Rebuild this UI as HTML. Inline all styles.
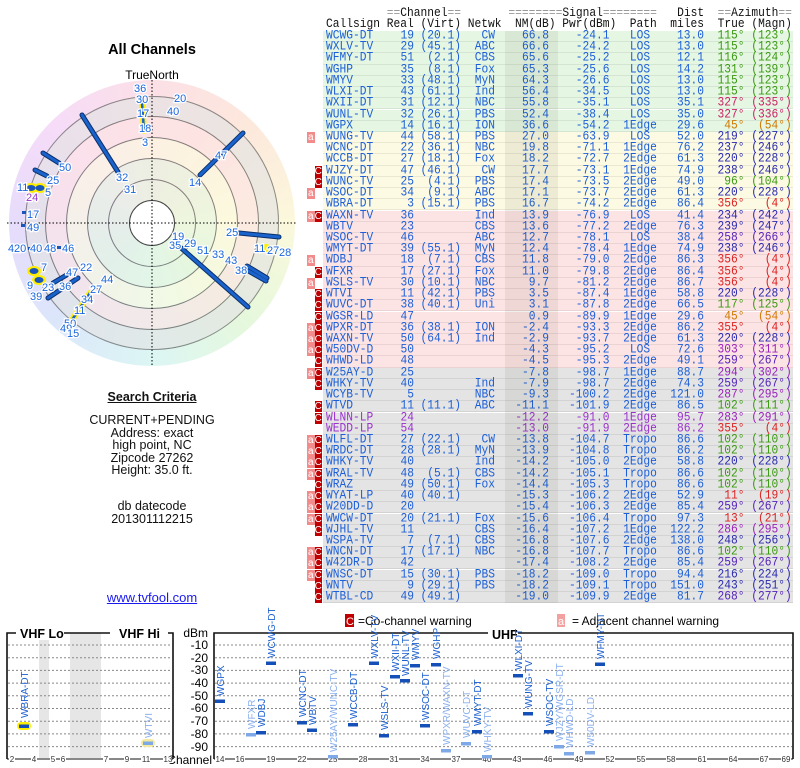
<!DOCTYPE html>
<html><head><meta charset="utf-8"><style>
*{margin:0;padding:0;box-sizing:border-box}
body{width:800px;height:768px;background:#fff;position:relative;overflow:hidden;font-family:"Liberation Sans",sans-serif}
.abs{position:absolute}
.hd{position:absolute;left:326px;font:11.25px/11px "Liberation Mono",monospace;color:#111;white-space:pre;transform:scaleY(1.15);transform-origin:0 50%}
.hd s{text-decoration:none;color:#999}
.r{position:absolute;left:323px;width:470px;height:11.2px;font:11.25px/11.4px "Liberation Mono",monospace;color:#1d5fd8;white-space:pre;border-bottom:1px solid rgba(0,0,0,.07)}
.r span{position:absolute;top:0;transform:scaleY(1.15);transform-origin:50% 40%}
.g{background:#e5f7e3}.y{background:#fcfae3}.p{background:#fde4e4}.x{background:#e4e4e4}
.k{left:3px}.re{right:379px}.vi{right:332px}.nw{right:298px}.nm{right:244px}.pw{right:183.5px}
.pa{left:283px;width:68px;text-align:center}.di{right:89px}.tr{right:48.5px}.mg{right:1.25px}
.wa,.wc{position:absolute;top:0;width:7.5px;height:11px;color:#fff;font:10px/11px "Liberation Sans",sans-serif;text-align:center}
.wa{left:-16px;background:#f28c8c}.wc{left:-8.5px;background:#c00000}
.G{color:#3b9a12}.O{color:#d07a00}.B{color:#2a2ab0}.V{color:#5522bb}.M{color:#9a22bb}.R{color:#dd2222}.Q{color:#cc2266}
.pu{color:#9933cc}
.disk{position:absolute;border-radius:50%}
.st{font:11px "Liberation Sans",sans-serif;fill:#1a66dd;paint-order:stroke;stroke:#fff;stroke-width:2.5px}
.cl{font:10px "Liberation Sans",sans-serif;fill:#1a5fd0}
.cl2{font:10px "Liberation Sans",sans-serif;fill:#8ab0ee}
.ax{font:12px "Liberation Sans",sans-serif;fill:#000}
.tk{font:8px "Liberation Sans",sans-serif;fill:#333}
.sc{position:absolute;left:0;width:304px;text-align:center;font-size:12.5px;color:#111;line-height:12.5px}
</style></head><body>

<div class="abs" style="left:0;width:304px;top:42px;text-align:center;font-weight:bold;font-size:14.5px">All Channels</div>
<div class="abs" style="left:0;width:304px;top:68px;text-align:center;font-size:12px">TrueNorth</div>

<div class="disk" style="left:9px;top:80px;width:286px;height:286px;background:conic-gradient(#fbe0e6,#fde8dc 45deg,#fbf8dc 90deg,#e6f8dc 135deg,#dcf6f4 180deg,#dce6fb 225deg,#e6dcfb 270deg,#f6dcf8 315deg,#fbe0e6 360deg)"></div>
<div class="disk" style="left:25px;top:96px;width:254px;height:254px;background:#e3e3e3;border:1px solid #555"></div>
<div class="disk" style="left:45px;top:116px;width:214px;height:214px;background:#fde4e4;border:1px solid #444"></div>
<div class="disk" style="left:66px;top:137px;width:172px;height:172px;background:#fcfae0;border:1px solid #444"></div>
<div class="disk" style="left:87px;top:158px;width:130px;height:130px;background:#e6f6e0;border:1px solid #444"></div>
<div class="disk" style="left:108px;top:179px;width:88px;height:88px;border:1px solid #444"></div>
<div class="disk" style="left:25px;top:96px;width:254px;height:254px;opacity:.35;background:conic-gradient(#fbe0e6,#fde8dc 45deg,#fbf8dc 90deg,#e6f8dc 135deg,#dcf6f4 180deg,#dce6fb 225deg,#e6dcfb 270deg,#f6dcf8 315deg,#fbe0e6 360deg)"></div>
<div class="disk" style="left:129px;top:200px;width:46px;height:46px;background:#fff;border:1px solid #444"></div>

<svg class="abs" style="left:0;top:0" width="304" height="380">
<line x1="7" y1="223" x2="297" y2="223" stroke="#000" stroke-dasharray="1.5,2"/>
<line x1="152" y1="80" x2="152" y2="367" stroke="#000" stroke-dasharray="1.5,2"/>
<g stroke-linecap="round">
<g stroke="#0a2f6a" stroke-width="5">
<line x1="82" y1="115" x2="118" y2="172"/><line x1="243" y1="133" x2="200" y2="175"/>
<line x1="43" y1="153" x2="59" y2="163"/><line x1="35" y1="170" x2="47" y2="176"/>
<line x1="239" y1="233" x2="279" y2="237"/><line x1="180" y1="247" x2="248" y2="307"/>
<line x1="247" y1="266" x2="267" y2="278"/><line x1="245" y1="269" x2="266" y2="281"/>
<line x1="48" y1="298" x2="78" y2="278"/><line x1="53" y1="283" x2="70" y2="273"/>
<line x1="142" y1="103" x2="144" y2="131"/>
</g>
<g stroke="#1a62cc" stroke-width="3">
<line x1="82" y1="115" x2="118" y2="172"/><line x1="243" y1="133" x2="200" y2="175"/>
<line x1="43" y1="153" x2="59" y2="163"/><line x1="35" y1="170" x2="47" y2="176"/>
<line x1="239" y1="233" x2="279" y2="237"/><line x1="180" y1="247" x2="248" y2="307"/>
<line x1="247" y1="266" x2="267" y2="278"/><line x1="245" y1="269" x2="266" y2="281"/>
<line x1="48" y1="298" x2="78" y2="278"/><line x1="53" y1="283" x2="70" y2="273"/>
</g>
<line x1="90" y1="293" x2="72" y2="320" stroke="#ffee00" stroke-width="6"/>
<line x1="90" y1="293" x2="72" y2="320" stroke="#1a62cc" stroke-width="2.5"/>
<line x1="142" y1="103" x2="144" y2="131" stroke="#ffee00" stroke-width="6"/>
<line x1="142" y1="103" x2="144" y2="131" stroke="#1a62cc" stroke-width="2.5"/>
</g>
<g fill="#ffee00"><ellipse cx="31" cy="188" rx="7" ry="5"/><ellipse cx="40" cy="188" rx="7" ry="5"/><ellipse cx="34" cy="271" rx="7" ry="5"/><ellipse cx="39" cy="280" rx="7" ry="5"/><ellipse cx="266" cy="248" rx="5" ry="4"/></g>
<g fill="#1a55bb"><ellipse cx="31" cy="188" rx="4.5" ry="3"/><ellipse cx="40" cy="188" rx="4.5" ry="3"/><ellipse cx="34" cy="271" rx="4.5" ry="3"/><ellipse cx="39" cy="280" rx="4.5" ry="3"/>
<rect x="22" y="211" width="4" height="3"/><rect x="21" y="224" width="4" height="3"/><rect x="57" y="246" width="4" height="3"/><rect x="177" y="100" width="4" height="3"/><rect x="28" y="247" width="4" height="3"/></g>
<g class="st">
<text x="134" y="92">36</text><text x="136" y="103">30</text><text x="137" y="117">17</text><text x="139" y="132">18</text><text x="142" y="146">3</text>
<text x="174" y="102">20</text><text x="167" y="115">40</text>
<text x="116" y="181">32</text><text x="124" y="193">31</text>
<text x="215" y="159">47</text><text x="189" y="186">14</text>
<text x="59" y="171">50</text><text x="47" y="184">25</text>
<text x="17" y="191">11</text><text x="45" y="196">5</text><text x="26" y="201" style="fill:#9933cc">24</text>
<text x="27" y="218">17</text><text x="27" y="231">49</text>
<text x="8" y="252">4</text><text x="14" y="252">20</text><text x="30" y="252">40</text><text x="44" y="252">48</text><text x="62" y="252">46</text>
<text x="41" y="271">7</text><text x="27" y="289">9</text>
<text x="66" y="276">47</text><text x="80" y="271">22</text><text x="42" y="291">23</text><text x="59" y="290">36</text><text x="30" y="300">39</text>
<text x="101" y="283">44</text><text x="90" y="293">27</text><text x="81" y="303">34</text><text x="74" y="314">11</text><text x="64" y="327">50</text><text x="60" y="332">49</text><text x="67" y="337">15</text>
<text x="226" y="236">25</text><text x="254" y="252">11</text><text x="267" y="254">27</text><text x="279" y="256">28</text>
<text x="172" y="240">19</text><text x="169" y="249">35</text><text x="184" y="247">29</text><text x="197" y="254">51</text><text x="212" y="258">33</text><text x="225" y="264">43</text><text x="235" y="274">38</text>
</g>
</svg>

<div class="sc" style="top:391px;font-weight:bold"><u>Search Criteria</u></div>
<div class="sc" style="top:414px">CURRENT+PENDING<br>Address: exact<br>high point, NC<br>Zipcode 27262<br>Height: 35.0 ft.</div>
<div class="sc" style="top:500px">db datecode<br>201301112215</div>
<div class="sc" style="top:592px;color:#1a1aee;font-size:13px"><u>www.tvfool.com</u></div>

<div class="hd" style="top:9px">         <s>==</s>Channel<s>==</s>       <s>========</s>Signal<s>========</s>   Dist  <s>==</s>Azimuth<s>==</s></div>
<div class="hd" style="top:20px">Callsign Real (Virt) Netwk  NM(dB) Pwr(dBm)  Path  miles  True (Magn)</div>

<div class="r g" style="top:31px"><span class="k">WCWG-DT</span><span class="re">19</span><span class="vi">(20.1)</span><span class="nw">CW</span><span class="nm">66.8</span><span class="pw">-24.1</span><span class="pa">LOS</span><span class="di">13.0</span><span class="tr G">115°</span><span class="mg G">(123°)</span></div>
<div class="r g" style="top:42.2px"><span class="k">WXLV-TV</span><span class="re">29</span><span class="vi">(45.1)</span><span class="nw">ABC</span><span class="nm">66.6</span><span class="pw">-24.2</span><span class="pa">LOS</span><span class="di">13.0</span><span class="tr G">115°</span><span class="mg G">(123°)</span></div>
<div class="r g" style="top:53.4px"><span class="k">WFMY-DT</span><span class="re">51</span><span class="vi">(2.1)</span><span class="nw">CBS</span><span class="nm">65.6</span><span class="pw">-25.2</span><span class="pa">LOS</span><span class="di">12.1</span><span class="tr G">116°</span><span class="mg G">(124°)</span></div>
<div class="r g" style="top:64.7px"><span class="k">WGHP</span><span class="re">35</span><span class="vi">(8.1)</span><span class="nw">Fox</span><span class="nm">65.3</span><span class="pw">-25.6</span><span class="pa">LOS</span><span class="di">14.2</span><span class="tr G">131°</span><span class="mg G">(139°)</span></div>
<div class="r g" style="top:75.9px"><span class="k">WMYV</span><span class="re">33</span><span class="vi">(48.1)</span><span class="nw">MyN</span><span class="nm">64.3</span><span class="pw">-26.6</span><span class="pa">LOS</span><span class="di">13.0</span><span class="tr G">115°</span><span class="mg G">(123°)</span></div>
<div class="r g" style="top:87.1px"><span class="k">WLXI-DT</span><span class="re">43</span><span class="vi">(61.1)</span><span class="nw">Ind</span><span class="nm">56.4</span><span class="pw">-34.5</span><span class="pa">LOS</span><span class="di">13.0</span><span class="tr G">115°</span><span class="mg G">(123°)</span></div>
<div class="r g" style="top:98.3px"><span class="k">WXII-DT</span><span class="re">31</span><span class="vi">(12.1)</span><span class="nw">NBC</span><span class="nm">55.8</span><span class="pw">-35.1</span><span class="pa">LOS</span><span class="di">35.1</span><span class="tr Q">327°</span><span class="mg Q">(335°)</span></div>
<div class="r g" style="top:109.5px"><span class="k">WUNL-TV</span><span class="re">32</span><span class="vi">(26.1)</span><span class="nw">PBS</span><span class="nm">52.4</span><span class="pw">-38.4</span><span class="pa">LOS</span><span class="di">35.0</span><span class="tr Q">327°</span><span class="mg Q">(336°)</span></div>
<div class="r g" style="top:120.8px"><span class="k">WGPX</span><span class="re">14</span><span class="vi">(16.1)</span><span class="nw">ION</span><span class="nm">36.6</span><span class="pw">-54.2</span><span class="pa">1Edge</span><span class="di">29.6</span><span class="tr O">45°</span><span class="mg O">(54°)</span></div>
<div class="r y" style="top:132px"><i class="wa">a</i><span class="k">WUNG-TV</span><span class="re">44</span><span class="vi">(58.1)</span><span class="nw">PBS</span><span class="nm">27.0</span><span class="pw">-63.9</span><span class="pa">LOS</span><span class="di">52.0</span><span class="tr B">219°</span><span class="mg B">(227°)</span></div>
<div class="r y" style="top:143.2px"><span class="k">WCNC-DT</span><span class="re">22</span><span class="vi">(36.1)</span><span class="nw">NBC</span><span class="nm">19.8</span><span class="pw">-71.1</span><span class="pa">1Edge</span><span class="di">76.2</span><span class="tr B">237°</span><span class="mg B">(246°)</span></div>
<div class="r y" style="top:154.4px"><span class="k">WCCB-DT</span><span class="re">27</span><span class="vi">(18.1)</span><span class="nw">Fox</span><span class="nm">18.2</span><span class="pw">-72.7</span><span class="pa">2Edge</span><span class="di">61.3</span><span class="tr B">220°</span><span class="mg B">(228°)</span></div>
<div class="r y" style="top:165.6px"><i class="wc">C</i><span class="k">WJZY-DT</span><span class="re">47</span><span class="vi">(46.1)</span><span class="nw">CW</span><span class="nm">17.7</span><span class="pw">-73.1</span><span class="pa">1Edge</span><span class="di">74.9</span><span class="tr B">238°</span><span class="mg B">(246°)</span></div>
<div class="r y" style="top:176.9px"><i class="wc">C</i><span class="k">WUNC-TV</span><span class="re">25</span><span class="vi">(4.1)</span><span class="nw">PBS</span><span class="nm">17.4</span><span class="pw">-73.5</span><span class="pa">2Edge</span><span class="di">49.0</span><span class="tr G">96°</span><span class="mg G">(104°)</span></div>
<div class="r y" style="top:188.1px"><i class="wa">a</i><span class="k">WSOC-DT</span><span class="re">34</span><span class="vi">(9.1)</span><span class="nw">ABC</span><span class="nm">17.1</span><span class="pw">-73.7</span><span class="pa">2Edge</span><span class="di">61.3</span><span class="tr B">220°</span><span class="mg B">(228°)</span></div>
<div class="r y" style="top:199.3px"><span class="k">WBRA-DT</span><span class="re">3</span><span class="vi">(15.1)</span><span class="nw">PBS</span><span class="nm">16.7</span><span class="pw">-74.2</span><span class="pa">2Edge</span><span class="di">86.4</span><span class="tr R">356°</span><span class="mg R">(4°)</span></div>
<div class="r p" style="top:210.5px"><i class="wa">a</i><i class="wc">C</i><span class="k">WAXN-TV</span><span class="re">36</span><span class="nw">Ind</span><span class="nm">13.9</span><span class="pw">-76.9</span><span class="pa">LOS</span><span class="di">41.4</span><span class="tr B">234°</span><span class="mg B">(242°)</span></div>
<div class="r p" style="top:221.7px"><span class="k">WBTV</span><span class="re">23</span><span class="nw">CBS</span><span class="nm">13.6</span><span class="pw">-77.2</span><span class="pa">2Edge</span><span class="di">76.3</span><span class="tr B">239°</span><span class="mg B">(247°)</span></div>
<div class="r p" style="top:233px"><span class="k">WSOC-TV</span><span class="re">46</span><span class="nw">ABC</span><span class="nm">12.7</span><span class="pw">-78.1</span><span class="pa">LOS</span><span class="di">38.4</span><span class="tr V">258°</span><span class="mg V">(266°)</span></div>
<div class="r p" style="top:244.2px"><span class="k">WMYT-DT</span><span class="re">39</span><span class="vi">(55.1)</span><span class="nw">MyN</span><span class="nm">12.4</span><span class="pw">-78.4</span><span class="pa">1Edge</span><span class="di">74.9</span><span class="tr B">238°</span><span class="mg B">(246°)</span></div>
<div class="r p" style="top:255.4px"><i class="wa">a</i><span class="k">WDBJ</span><span class="re">18</span><span class="vi">(7.1)</span><span class="nw">CBS</span><span class="nm">11.8</span><span class="pw">-79.0</span><span class="pa">2Edge</span><span class="di">86.3</span><span class="tr R">356°</span><span class="mg R">(4°)</span></div>
<div class="r p" style="top:266.6px"><i class="wc">C</i><span class="k">WFXR</span><span class="re">17</span><span class="vi">(27.1)</span><span class="nw">Fox</span><span class="nm">11.0</span><span class="pw">-79.8</span><span class="pa">2Edge</span><span class="di">86.4</span><span class="tr R">356°</span><span class="mg R">(4°)</span></div>
<div class="r p" style="top:277.8px"><i class="wa">a</i><span class="k">WSLS-TV</span><span class="re">30</span><span class="vi">(10.1)</span><span class="nw">NBC</span><span class="nm">9.7</span><span class="pw">-81.2</span><span class="pa">2Edge</span><span class="di">86.7</span><span class="tr R">356°</span><span class="mg R">(4°)</span></div>
<div class="r p" style="top:289.1px"><i class="wc">C</i><span class="k">WTVI</span><span class="re">11</span><span class="vi">(42.1)</span><span class="nw">PBS</span><span class="nm">3.5</span><span class="pw">-87.4</span><span class="pa">1Edge</span><span class="di">58.8</span><span class="tr B">220°</span><span class="mg B">(228°)</span></div>
<div class="r p" style="top:300.3px"><i class="wc">C</i><span class="k">WUVC-DT</span><span class="re">38</span><span class="vi">(40.1)</span><span class="nw">Uni</span><span class="nm">3.1</span><span class="pw">-87.8</span><span class="pa">2Edge</span><span class="di">66.5</span><span class="tr G">117°</span><span class="mg G">(125°)</span></div>
<div class="r p" style="top:311.5px"><i class="wc">C</i><span class="k">WGSR-LD</span><span class="re">47</span><span class="nm">0.9</span><span class="pw">-89.9</span><span class="pa">1Edge</span><span class="di">29.6</span><span class="tr O">45°</span><span class="mg O">(54°)</span></div>
<div class="r p" style="top:322.7px"><i class="wa">a</i><i class="wc">C</i><span class="k">WPXR-DT</span><span class="re">36</span><span class="vi">(38.1)</span><span class="nw">ION</span><span class="nm">-2.4</span><span class="pw">-93.3</span><span class="pa">2Edge</span><span class="di">86.2</span><span class="tr R">355°</span><span class="mg R">(4°)</span></div>
<div class="r p" style="top:333.9px"><i class="wa">a</i><i class="wc">C</i><span class="k">WAXN-TV</span><span class="re">50</span><span class="vi">(64.1)</span><span class="nw">Ind</span><span class="nm">-2.9</span><span class="pw">-93.7</span><span class="pa">2Edge</span><span class="di">61.3</span><span class="tr B">220°</span><span class="mg B">(228°)</span></div>
<div class="r p" style="top:345.2px"><i class="wa">a</i><i class="wc">C</i><span class="k">W50DV-D</span><span class="re">50</span><span class="nm">-4.3</span><span class="pw">-95.2</span><span class="pa">LOS</span><span class="di">72.6</span><span class="tr M">303°</span><span class="mg M">(311°)</span></div>
<div class="r p" style="top:356.4px"><i class="wc">C</i><span class="k">WHWD-LD</span><span class="re">48</span><span class="nm">-4.5</span><span class="pw">-95.3</span><span class="pa">2Edge</span><span class="di">49.1</span><span class="tr V">259°</span><span class="mg V">(267°)</span></div>
<div class="r x" style="top:367.6px"><i class="wa">a</i><i class="wc">C</i><span class="k">W25AY-D</span><span class="re">25</span><span class="nm">-7.8</span><span class="pw">-98.7</span><span class="pa">1Edge</span><span class="di">88.7</span><span class="tr M">294°</span><span class="mg M">(302°)</span></div>
<div class="r x" style="top:378.8px"><i class="wc">C</i><span class="k">WHKY-TV</span><span class="re">40</span><span class="nw">Ind</span><span class="nm">-7.9</span><span class="pw">-98.7</span><span class="pa">2Edge</span><span class="di">74.3</span><span class="tr V">259°</span><span class="mg V">(267°)</span></div>
<div class="r x" style="top:390px"><span class="k">WCYB-TV</span><span class="re">5</span><span class="nw">NBC</span><span class="nm">-9.3</span><span class="pw">-100.2</span><span class="pa">2Edge</span><span class="di">121.0</span><span class="tr M">287°</span><span class="mg M">(295°)</span></div>
<div class="r x" style="top:401.3px"><i class="wc">C</i><span class="k">WTVD</span><span class="re">11</span><span class="vi">(11.1)</span><span class="nw">ABC</span><span class="nm">-11.1</span><span class="pw">-101.9</span><span class="pa">2Edge</span><span class="di">86.5</span><span class="tr G">102°</span><span class="mg G">(111°)</span></div>
<div class="r x pu" style="top:412.5px"><i class="wc">C</i><span class="k">WLNN-LP</span><span class="re">24</span><span class="nm">-12.2</span><span class="pw">-91.0</span><span class="pa">1Edge</span><span class="di">95.7</span><span class="tr M">283°</span><span class="mg M">(291°)</span></div>
<div class="r x pu" style="top:423.7px"><span class="k">WEDD-LP</span><span class="re">54</span><span class="nm">-13.0</span><span class="pw">-91.9</span><span class="pa">2Edge</span><span class="di">86.2</span><span class="tr R">355°</span><span class="mg R">(4°)</span></div>
<div class="r x" style="top:434.9px"><i class="wa">a</i><i class="wc">C</i><span class="k">WLFL-DT</span><span class="re">27</span><span class="vi">(22.1)</span><span class="nw">CW</span><span class="nm">-13.8</span><span class="pw">-104.7</span><span class="pa">Tropo</span><span class="di">86.6</span><span class="tr G">102°</span><span class="mg G">(110°)</span></div>
<div class="r x" style="top:446.1px"><i class="wa">a</i><i class="wc">C</i><span class="k">WRDC-DT</span><span class="re">28</span><span class="vi">(28.1)</span><span class="nw">MyN</span><span class="nm">-13.9</span><span class="pw">-104.8</span><span class="pa">Tropo</span><span class="di">86.2</span><span class="tr G">102°</span><span class="mg G">(110°)</span></div>
<div class="r x" style="top:457.4px"><i class="wa">a</i><i class="wc">C</i><span class="k">WHKY-TV</span><span class="re">40</span><span class="nw">Ind</span><span class="nm">-14.2</span><span class="pw">-105.0</span><span class="pa">2Edge</span><span class="di">58.8</span><span class="tr B">220°</span><span class="mg B">(228°)</span></div>
<div class="r x" style="top:468.6px"><i class="wa">a</i><i class="wc">C</i><span class="k">WRAL-TV</span><span class="re">48</span><span class="vi">(5.1)</span><span class="nw">CBS</span><span class="nm">-14.2</span><span class="pw">-105.1</span><span class="pa">Tropo</span><span class="di">86.6</span><span class="tr G">102°</span><span class="mg G">(110°)</span></div>
<div class="r x" style="top:479.8px"><i class="wc">C</i><span class="k">WRAZ</span><span class="re">49</span><span class="vi">(50.1)</span><span class="nw">Fox</span><span class="nm">-14.4</span><span class="pw">-105.3</span><span class="pa">Tropo</span><span class="di">86.6</span><span class="tr G">102°</span><span class="mg G">(110°)</span></div>
<div class="r x" style="top:491px"><i class="wa">a</i><i class="wc">C</i><span class="k">WYAT-LP</span><span class="re">40</span><span class="vi">(40.1)</span><span class="nm">-15.3</span><span class="pw">-106.2</span><span class="pa">2Edge</span><span class="di">52.9</span><span class="tr R">11°</span><span class="mg R">(19°)</span></div>
<div class="r x" style="top:502.2px"><i class="wa">a</i><i class="wc">C</i><span class="k">W20DD-D</span><span class="re">20</span><span class="nm">-15.4</span><span class="pw">-106.3</span><span class="pa">2Edge</span><span class="di">85.4</span><span class="tr V">259°</span><span class="mg V">(267°)</span></div>
<div class="r x" style="top:513.5px"><i class="wa">a</i><i class="wc">C</i><span class="k">WWCW-DT</span><span class="re">20</span><span class="vi">(21.1)</span><span class="nw">Fox</span><span class="nm">-15.6</span><span class="pw">-106.4</span><span class="pa">Tropo</span><span class="di">97.3</span><span class="tr R">13°</span><span class="mg R">(21°)</span></div>
<div class="r x" style="top:524.7px"><i class="wc">C</i><span class="k">WJHL-TV</span><span class="re">11</span><span class="nw">CBS</span><span class="nm">-16.4</span><span class="pw">-107.2</span><span class="pa">1Edge</span><span class="di">122.2</span><span class="tr M">286°</span><span class="mg M">(295°)</span></div>
<div class="r x" style="top:535.9px"><span class="k">WSPA-TV</span><span class="re">7</span><span class="vi">(7.1)</span><span class="nw">CBS</span><span class="nm">-16.8</span><span class="pw">-107.6</span><span class="pa">2Edge</span><span class="di">138.0</span><span class="tr B">248°</span><span class="mg B">(256°)</span></div>
<div class="r x" style="top:547.1px"><i class="wa">a</i><i class="wc">C</i><span class="k">WNCN-DT</span><span class="re">17</span><span class="vi">(17.1)</span><span class="nw">NBC</span><span class="nm">-16.8</span><span class="pw">-107.7</span><span class="pa">Tropo</span><span class="di">86.6</span><span class="tr G">102°</span><span class="mg G">(110°)</span></div>
<div class="r x" style="top:558.3px"><i class="wa">a</i><i class="wc">C</i><span class="k">W42DR-D</span><span class="re">42</span><span class="nm">-17.4</span><span class="pw">-108.2</span><span class="pa">2Edge</span><span class="di">85.4</span><span class="tr V">259°</span><span class="mg V">(267°)</span></div>
<div class="r x" style="top:569.6px"><i class="wa">a</i><i class="wc">C</i><span class="k">WNSC-DT</span><span class="re">15</span><span class="vi">(30.1)</span><span class="nw">PBS</span><span class="nm">-18.2</span><span class="pw">-109.0</span><span class="pa">Tropo</span><span class="di">94.4</span><span class="tr B">216°</span><span class="mg B">(224°)</span></div>
<div class="r x" style="top:580.8px"><i class="wc">C</i><span class="k">WNTV</span><span class="re">9</span><span class="vi">(29.1)</span><span class="nw">PBS</span><span class="nm">-18.2</span><span class="pw">-109.1</span><span class="pa">Tropo</span><span class="di">151.0</span><span class="tr B">243°</span><span class="mg B">(251°)</span></div>
<div class="r x" style="top:592px"><i class="wc">C</i><span class="k">WTBL-CD</span><span class="re">49</span><span class="vi">(49.1)</span><span class="nm">-19.0</span><span class="pw">-109.9</span><span class="pa">2Edge</span><span class="di">81.7</span><span class="tr V">268°</span><span class="mg V">(277°)</span></div>
<div class="abs" style="left:505px;top:31px;width:53px;height:572px;background:rgba(60,60,40,.08)"></div>

<svg class="abs" style="left:0;top:600px" width="800" height="168">
<g transform="translate(0,-600)">
<rect x="39" y="633" width="10" height="125" fill="#e6e6e6"/>
<rect x="70" y="633" width="31" height="125" fill="#e6e6e6"/>
<g stroke="#888" stroke-dasharray="2,2" stroke-width="1">
<line x1="8" y1="645" x2="172" y2="645"/><line x1="8" y1="657.7" x2="172" y2="657.7"/><line x1="8" y1="670.4" x2="172" y2="670.4"/><line x1="8" y1="683.1" x2="172" y2="683.1"/><line x1="8" y1="695.8" x2="172" y2="695.8"/><line x1="8" y1="708.5" x2="172" y2="708.5"/><line x1="8" y1="721.2" x2="172" y2="721.2"/><line x1="8" y1="733.9" x2="172" y2="733.9"/><line x1="8" y1="746.6" x2="172" y2="746.6"/>
<line x1="215" y1="645" x2="792" y2="645"/><line x1="215" y1="657.7" x2="792" y2="657.7"/><line x1="215" y1="670.4" x2="792" y2="670.4"/><line x1="215" y1="683.1" x2="792" y2="683.1"/><line x1="215" y1="695.8" x2="792" y2="695.8"/><line x1="215" y1="708.5" x2="792" y2="708.5"/><line x1="215" y1="721.2" x2="792" y2="721.2"/><line x1="215" y1="733.9" x2="792" y2="733.9"/><line x1="215" y1="746.6" x2="792" y2="746.6"/>
</g>
<g fill="none" stroke="#111" stroke-width="1.6">
<polyline points="7,759 7,633 173,633 173,759"/>
<polyline points="214,759 214,633 793,633 793,759"/>
<line x1="7" y1="759" x2="173" y2="759" stroke-width="1"/>
<line x1="214" y1="759" x2="793" y2="759" stroke-width="1"/>
</g>
<rect x="16" y="626" width="48" height="14" fill="#fff"/><text x="20" y="638" style="font:bold 12.5px 'Liberation Sans',sans-serif">VHF Lo</text>
<rect x="110" y="626" width="58" height="14" fill="#fff"/><text x="119" y="638" style="font:bold 12.5px 'Liberation Sans',sans-serif">VHF Hi</text>
<rect x="488" y="626" width="30" height="14" fill="#fff"/><text x="492" y="639" style="font:bold 12.5px 'Liberation Sans',sans-serif">UHF</text>
<g class="ax" text-anchor="end">
<text x="208" y="637">dBm</text><text x="208" y="649">-10</text><text x="208" y="662">-20</text><text x="208" y="674">-30</text><text x="208" y="687">-40</text><text x="208" y="700">-50</text><text x="208" y="712">-60</text><text x="208" y="725">-70</text><text x="208" y="738">-80</text><text x="208" y="751">-90</text>
<text x="212" y="764">Channel</text>
</g>
<g class="tk" text-anchor="middle">
<rect x="9" y="756" width="6" height="7" fill="#fff"/><text x="12" y="762">2</text>
<rect x="31" y="756" width="6" height="7" fill="#fff"/><text x="34" y="762">4</text>
<rect x="50" y="756" width="6" height="7" fill="#fff"/><text x="53" y="762">5</text>
<rect x="60" y="756" width="6" height="7" fill="#fff"/><text x="63" y="762">6</text>
<rect x="103" y="756" width="6" height="7" fill="#fff"/><text x="106" y="762">7</text>
<rect x="124" y="756" width="6" height="7" fill="#fff"/><text x="127" y="762">9</text>
<rect x="141" y="756" width="9" height="7" fill="#fff"/><text x="146" y="762">11</text>
<rect x="163" y="756" width="9" height="7" fill="#fff"/><text x="168" y="762">13</text>
<rect x="215" y="756" width="10" height="7" fill="#fff"/><text x="220" y="762">14</text>
<rect x="235" y="756" width="10" height="7" fill="#fff"/><text x="240" y="762">16</text>
<rect x="266" y="756" width="10" height="7" fill="#fff"/><text x="271" y="762">19</text>
<rect x="297" y="756" width="10" height="7" fill="#fff"/><text x="302" y="762">22</text>
<rect x="328" y="756" width="10" height="7" fill="#fff"/><text x="333" y="762">25</text>
<rect x="358" y="756" width="10" height="7" fill="#fff"/><text x="363" y="762">28</text>
<rect x="389" y="756" width="10" height="7" fill="#fff"/><text x="394" y="762">31</text>
<rect x="420" y="756" width="10" height="7" fill="#fff"/><text x="425" y="762">34</text>
<rect x="451" y="756" width="10" height="7" fill="#fff"/><text x="456" y="762">37</text>
<rect x="482" y="756" width="10" height="7" fill="#fff"/><text x="487" y="762">40</text>
<rect x="512" y="756" width="10" height="7" fill="#fff"/><text x="517" y="762">43</text>
<rect x="543" y="756" width="10" height="7" fill="#fff"/><text x="548" y="762">46</text>
<rect x="574" y="756" width="10" height="7" fill="#fff"/><text x="579" y="762">49</text>
<rect x="605" y="756" width="10" height="7" fill="#fff"/><text x="610" y="762">52</text>
<rect x="636" y="756" width="10" height="7" fill="#fff"/><text x="641" y="762">55</text>
<rect x="666" y="756" width="10" height="7" fill="#fff"/><text x="671" y="762">58</text>
<rect x="697" y="756" width="10" height="7" fill="#fff"/><text x="702" y="762">61</text>
<rect x="728" y="756" width="10" height="7" fill="#fff"/><text x="733" y="762">64</text>
<rect x="759" y="756" width="10" height="7" fill="#fff"/><text x="764" y="762">67</text>
<rect x="781" y="756" width="10" height="7" fill="#fff"/><text x="786" y="762">69</text>
</g>
<rect x="345" y="614" width="9" height="13" fill="#c00000"/><text x="346" y="625" style="font:11px 'Liberation Sans',sans-serif;fill:#fff">C</text>
<text x="358" y="625" style="font:12px 'Liberation Sans',sans-serif">=Co-channel warning</text>
<rect x="557" y="614" width="8" height="13" fill="#f4a0a0"/><text x="558" y="625" style="font:11px 'Liberation Sans',sans-serif;fill:#fff">a</text>
<text x="572" y="625" style="font:12px 'Liberation Sans',sans-serif">= Adjacent channel warning</text>
<g>
<rect x="17" y="722" width="14" height="8" rx="4" fill="#ffee00"/>
<rect x="141" y="739" width="14" height="8" rx="4" fill="#f4eaa0"/>
<g fill="#1450b8">
<rect x="19" y="724.5" width="10" height="3.5"/>
<rect x="215" y="699.5" width="10" height="3.5"/><rect x="256" y="731" width="10" height="3.5"/><rect x="266" y="661.5" width="10" height="3.5"/>
<rect x="297" y="721" width="10" height="3.5"/><rect x="307" y="728.5" width="10" height="3.5"/><rect x="348" y="723" width="10" height="3.5"/>
<rect x="369" y="661.5" width="10" height="3.5"/><rect x="379" y="734" width="10" height="3.5"/><rect x="390" y="675" width="10" height="3.5"/>
<rect x="400" y="679" width="10" height="3.5"/><rect x="410" y="664" width="10" height="3.5"/><rect x="420" y="724" width="10" height="3.5"/>
<rect x="431" y="663" width="10" height="3.5"/><rect x="472" y="730" width="10" height="3.5"/><rect x="513" y="674" width="10" height="3.5"/>
<rect x="523" y="712" width="10" height="3.5"/><rect x="544" y="730" width="10" height="3.5"/><rect x="595" y="662.5" width="10" height="3.5"/>
</g>
<g fill="#7fa8e6">
<rect x="143" y="741.5" width="10" height="3.5"/><rect x="246" y="733" width="10" height="3.5"/><rect x="328" y="755" width="10" height="3.5"/>
<rect x="441" y="749" width="10" height="3.5"/><rect x="461" y="742" width="10" height="3.5"/><rect x="482" y="755" width="10" height="3.5"/>
<rect x="554" y="745" width="10" height="3.5"/><rect x="564" y="752" width="10" height="3.5"/><rect x="585" y="751" width="10" height="3.5"/>
</g>
</g>
<g class="cl">
<text transform="translate(28,718) rotate(-90)">WBRA-DT</text>
<text transform="translate(224,696) rotate(-90)">WGPX</text>
<text transform="translate(265,727) rotate(-90)">WDBJ</text>
<text transform="translate(275,658) rotate(-90)">WCWG-DT</text>
<text transform="translate(306,717) rotate(-90)">WCNC-DT</text>
<text transform="translate(316,725) rotate(-90)">WBTV</text>
<text transform="translate(357,719) rotate(-90)">WCCB-DT</text>
<text transform="translate(378,658) rotate(-90)">WXLV-TV</text>
<text transform="translate(388,730) rotate(-90)">WSLS-TV</text>
<text transform="translate(399,671) rotate(-90)">WXII-DT</text>
<text transform="translate(409,676) rotate(-90)">WUNL-TV</text>
<text transform="translate(419,660) rotate(-90)">WMYV</text>
<text transform="translate(429,720) rotate(-90)">WSOC-DT</text>
<text transform="translate(440,659) rotate(-90)">WGHP</text>
<text transform="translate(481,726) rotate(-90)">WMYT-DT</text>
<text transform="translate(522,670) rotate(-90)">WLXI-DT</text>
<text transform="translate(532,708) rotate(-90)">WUNG-TV</text>
<text transform="translate(553,726) rotate(-90)">WSOC-TV</text>
<text transform="translate(604,659) rotate(-90)">WFMY-DT</text>
</g>
<g class="cl2">
<text transform="translate(152,738) rotate(-90)">WTVI</text>
<text transform="translate(255,729) rotate(-90)">WFXR</text>
<text transform="translate(337,752) rotate(-90)">W25AY/WUNC-TV</text>
<text transform="translate(450,745) rotate(-90)">WPXR/WAXN-TV</text>
<text transform="translate(470,738) rotate(-90)">WUVC-DT</text>
<text transform="translate(491,752) rotate(-90)">WHKY-TV</text>
<text transform="translate(563,741) rotate(-90)">WJZY/WGSR-DT</text>
<text transform="translate(573,748) rotate(-90)">WHWD-LD</text>
<text transform="translate(594,747) rotate(-90)">W50DV-LD</text>
</g>
</g>
</svg>
</body></html>
